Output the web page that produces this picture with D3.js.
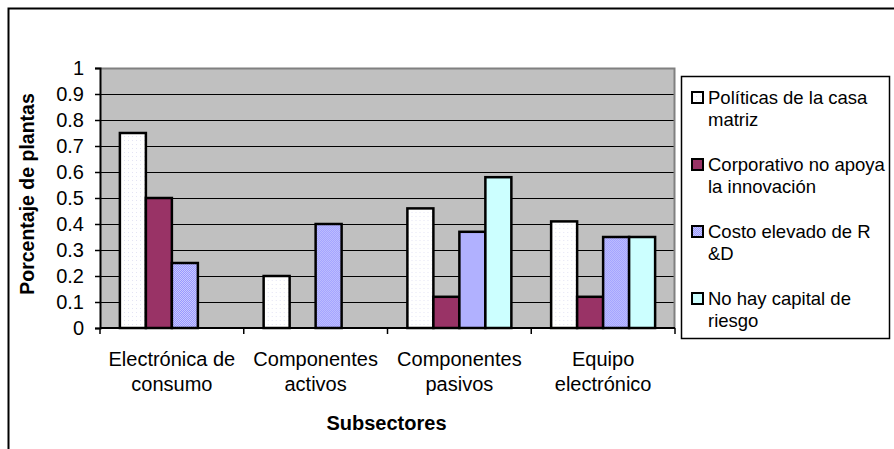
<!DOCTYPE html>
<html>
<head>
<meta charset="utf-8">
<script src="https://cdn.jsdelivr.net/npm/d3@7/dist/d3.min.js"></script>
<style>
  html, body { margin: 0; padding: 0; background: #fff; }
  svg { display: block; font-family: "Liberation Sans", Arial, sans-serif; }
</style>
</head>
<body>
<svg id="chart" width="894" height="449"></svg>
<script>
// Subsector categories (two-line labels)
const categories = ["Electrónica de consumo", "Componentes activos", "Componentes pasivos", "Equipo electrónico"];
const categoryLines = [["Electrónica de", "consumo"], ["Componentes", "activos"], ["Componentes", "pasivos"], ["Equipo", "electrónico"]];

// Series (null = no bar)
const seriesNames = ["Políticas de la casa matriz", "Corporativo no apoya la innovación", "Costo elevado de R &D", "No hay capital de riesgo"];
const legendLines = [["Políticas de la casa", "matriz"], ["Corporativo no apoya", "la innovación"], ["Costo elevado de R", "&D"], ["No hay capital de", "riesgo"]];
const politicas   = [0.75, 0.20, 0.46, 0.41];
const corporativo = [0.50, null, 0.12, 0.12];
const costo       = [0.25, 0.40, 0.37, 0.35];
const capital     = [null, null, 0.58, 0.35];
const seriesValues = [politicas, corporativo, costo, capital];

const yTicks = [0, 0.1, 0.2, 0.3, 0.4, 0.5, 0.6, 0.7, 0.8, 0.9, 1];

const svg = d3.select("#chart");

// fill patterns
const defs = svg.append("defs");
const pWhite = defs.append("pattern").attr("id", "pWhite").attr("patternUnits", "userSpaceOnUse")
  .attr("width", 4).attr("height", 4);
pWhite.append("rect").attr("width", 4).attr("height", 4).attr("fill", "#ffffff");
pWhite.append("rect").attr("width", 1).attr("height", 1).attr("fill", "#e4e4f4");
const pBlue = defs.append("pattern").attr("id", "pBlue").attr("patternUnits", "userSpaceOnUse")
  .attr("width", 2).attr("height", 2);
pBlue.append("rect").attr("width", 2).attr("height", 2).attr("fill", "#9999ff");
pBlue.append("rect").attr("width", 1).attr("height", 1).attr("fill", "#c8c8ff");
pBlue.append("rect").attr("x", 1).attr("y", 1).attr("width", 1).attr("height", 1).attr("fill", "#c8c8ff");

const fills = ["url(#pWhite)", "#993366", "url(#pBlue)", "#ccffff"];

// outer chart border
svg.append("rect").attr("x", 8.5).attr("y", 8.5).attr("width", 900).attr("height", 500)
  .attr("fill", "none").attr("stroke", "#000").attr("stroke-width", 2);

const plot = { left: 100, right: 675, top: 68, bottom: 328 };

const x = d3.scaleBand().domain(categories).range([plot.left, plot.right]).paddingInner(0).paddingOuter(0);
const xs = d3.scaleBand().domain(d3.range(seriesNames.length)).range([0, x.bandwidth()])
  .paddingInner(0).paddingOuter(0.765);
const y = d3.scaleLinear().domain([0, 1]).range([plot.bottom, plot.top]);

// plot background
svg.append("rect").attr("x", plot.left).attr("y", plot.top)
  .attr("width", plot.right - plot.left).attr("height", plot.bottom - plot.top)
  .attr("fill", "#c0c0c0");

// gridlines
svg.append("g").selectAll("line").data(yTicks.filter(t => t > 0 && t < 1)).join("line")
  .attr("x1", plot.left).attr("x2", plot.right)
  .attr("y1", d => Math.round(y(d)) + 0.5).attr("y2", d => Math.round(y(d)) + 0.5)
  .attr("stroke", "#000").attr("stroke-width", 1);

// plot border (top and right)
svg.append("path")
  .attr("d", `M${plot.left},${plot.top + 0.5}H${plot.right - 0.5}V${plot.bottom}`)
  .attr("fill", "none").attr("stroke", "#808080").attr("stroke-width", 2);

// bars
categories.forEach((c, ci) => {
  const g = svg.append("g").attr("transform", `translate(${x(c)},0)`);
  seriesValues.forEach((vals, si) => {
    const v = vals[ci];
    if (v == null) return;
    g.append("rect")
      .attr("x", xs(si)).attr("width", xs.bandwidth())
      .attr("y", y(v)).attr("height", y(0) - y(v))
      .attr("fill", fills[si]).attr("stroke", "#000").attr("stroke-width", 2.5);
  });
});

// y axis
const yAxis = d3.axisLeft(y).tickValues(yTicks).tickFormat(d => d3.format("")(d)).tickSize(5).tickPadding(11);
const ya = svg.append("g").attr("transform", `translate(${plot.left},0)`).call(yAxis);
ya.select(".domain").attr("stroke", "#000").attr("stroke-width", 2);
ya.selectAll(".tick line").attr("stroke", "#000").attr("stroke-width", 1.5);
ya.selectAll(".tick text").attr("font-size", 20).attr("fill", "#000")
  .attr("font-family", "'Liberation Sans', Arial, sans-serif");

// x axis line and category separators
svg.append("line").attr("x1", plot.left).attr("x2", plot.right)
  .attr("y1", plot.bottom).attr("y2", plot.bottom).attr("stroke", "#000").attr("stroke-width", 2);
const bounds = categories.map(c => x(c)).concat([plot.right]);
svg.append("g").selectAll("line").data(bounds).join("line")
  .attr("x1", d => d).attr("x2", d => d)
  .attr("y1", plot.bottom).attr("y2", plot.bottom + 6)
  .attr("stroke", "#000").attr("stroke-width", 1.5);

// category labels
const cl = svg.append("g").attr("font-size", 20).attr("text-anchor", "middle").attr("fill", "#000");
categoryLines.forEach((lines, ci) => {
  const cx = x(categories[ci]) + x.bandwidth() / 2;
  lines.forEach((t, li) => {
    cl.append("text").attr("x", cx).attr("y", 366 + li * 25).text(t);
  });
});

// axis titles
svg.append("text").attr("x", (plot.left + plot.right) / 2 - 1).attr("y", 430)
  .attr("text-anchor", "middle").attr("font-size", 20).attr("font-weight", "bold").text("Subsectores");
svg.append("text").attr("transform", `translate(34,194) rotate(-90)`)
  .attr("text-anchor", "middle").attr("font-size", 19.5).attr("font-weight", "bold").text("Porcentaje de plantas");

// legend
const lg = svg.append("g");
lg.append("rect").attr("x", 681.5).attr("y", 76.5).attr("width", 208).attr("height", 262)
  .attr("fill", "#fff").attr("stroke", "#000").attr("stroke-width", 1.5);
legendLines.forEach((lines, si) => {
  const base = 104 + si * 67;
  lg.append("rect").attr("x", 692).attr("y", base - 12).attr("width", 11).attr("height", 11)
    .attr("fill", fills[si]).attr("stroke", "#000").attr("stroke-width", 2);
  lines.forEach((t, li) => {
    lg.append("text").attr("x", 708).attr("y", base + li * 22).attr("font-size", 18.5).text(t);
  });
});
</script>
</body>
</html>
